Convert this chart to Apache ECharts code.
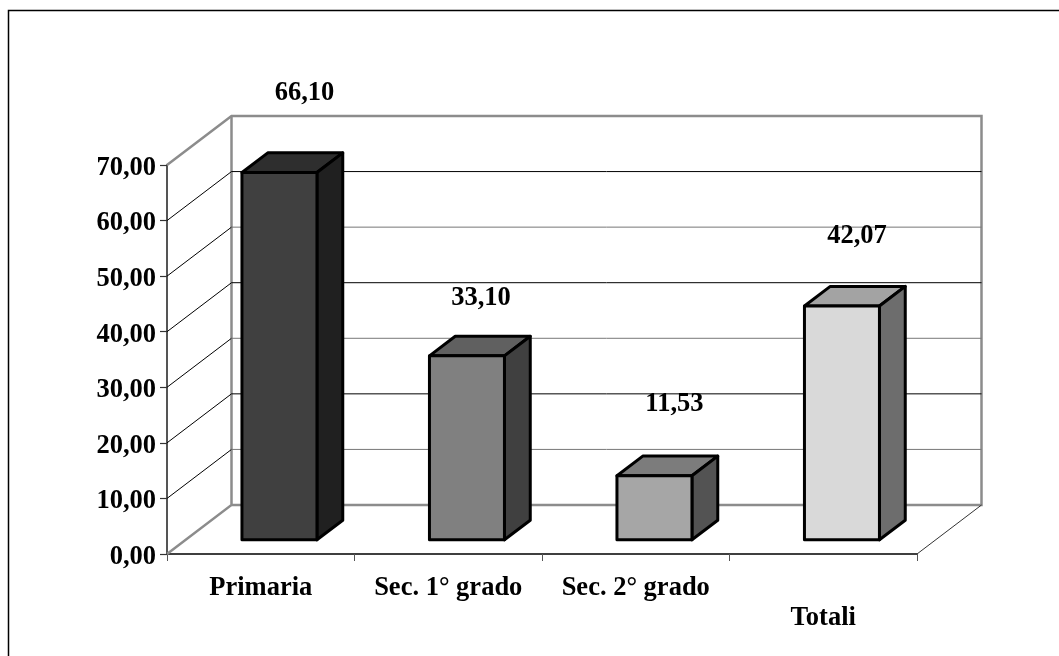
<!DOCTYPE html>
<html>
<head>
<meta charset="utf-8">
<style>html,body{margin:0;padding:0;background:#fff}#c{width:1059px;height:656px}</style>
<script src="https://cdn.jsdelivr.net/npm/echarts@6/dist/echarts.min.js"></script>
</head>
<body>
<div id="c"></div>
<script>
const categories = ['Primaria', 'Sec. 1° grado', 'Sec. 2° grado', 'Totali'];
const values = [66.10, 33.10, 11.53, 42.07];
const gridLevels = [10, 20, 30, 40, 50, 60];
const frontColors = ['#404040', '#808080', '#a6a6a6', '#d9d9d9'];
const topColors = ['#2e2e2e', '#606060', '#7c7c7c', '#a3a3a3'];
const sideColors = ['#202020', '#404040', '#535353', '#6d6d6d'];
const staggeredCategory = 'Totali';

const FONT = '"Liberation Serif", "Times New Roman", serif';
const FONT_SIZE = 26.5;
const DX = 64.5, DY = 49;            // depth of the chart box
const BAR_NEAR = 0.29, BAR_FAR = 0.69; // bar position inside the depth
const labelShift = [[25, -79], [14, -58], [20, -72], [15, -70]]; // label placement over each bar
const fmt = v => v.toFixed(2).replace('.', ',');

function renderBox(params, api) {
  const cs = params.coordSys;
  const x0 = cs.x, x1 = cs.x + cs.width, yTop = cs.y, yBot = cs.y + cs.height;
  const v = api.value(1);
  const y = api.coord([0, v])[1];
  const line = (pts, stroke, lineWidth) => ({
    type: 'polyline', shape: { points: pts },
    style: { stroke, lineWidth, fill: null }
  });
  if (v > 0) {
    return { type: 'group', children: [
      line([[x0, y], [x0 + DX, y - DY]], '#000000', 1),
      line([[x0 + DX, y - DY], [x1 + DX, y - DY]], (v === 50 || v === 30 || v === 10) ? '#777777' : '#000000', 1)
    ]};
  }
  return { type: 'group', children: [
    line([[x0, yTop], [x0 + DX, yTop - DY], [x1 + DX, yTop - DY], [x1 + DX, yBot - DY], [x0 + DX, yBot - DY]], '#8c8c8c', 2.5),
    line([[x0 + DX, yTop - DY], [x0 + DX, yBot - DY], [x0, yBot]], '#8c8c8c', 2.5),
    line([[x1, yBot], [x1 + DX, yBot - DY]], '#333333', 1)
  ]};
}

function renderBar(params, api) {
  const i = api.value(0), v = api.value(1);
  const base = api.coord([i, 0]), top = api.coord([i, v]);
  const w = api.size([1, 0])[0] * 0.4;
  const nx = DX * BAR_NEAR, ny = DY * BAR_NEAR;
  const ddx = DX * (BAR_FAR - BAR_NEAR), ddy = DY * (BAR_FAR - BAR_NEAR);
  const l = base[0] - w / 2 + nx, r = l + w;
  const b = base[1] - ny, t = top[1] - ny;
  const poly = (pts, fill) => ({
    type: 'polygon', shape: { points: pts },
    style: { fill, stroke: '#000000', lineWidth: 3, lineJoin: 'round' }
  });
  const shift = labelShift[i];
  return { type: 'group', children: [
    poly([[l, t], [l + ddx, t - ddy], [r + ddx, t - ddy], [r, t]], topColors[i]),
    poly([[r, t], [r + ddx, t - ddy], [r + ddx, b - ddy], [r, b]], sideColors[i]),
    poly([[l, t], [r, t], [r, b], [l, b]], frontColors[i]),
    { type: 'text', x: base[0] + nx + shift[0], y: t + shift[1],
      style: { text: fmt(v), fontFamily: FONT, fontWeight: 'bold', fontSize: FONT_SIZE, fill: '#000000',
               align: 'center', verticalAlign: 'middle' } }
  ]};
}

const chart = echarts.init(document.getElementById('c'), null, { renderer: 'canvas' });
chart.setOption({
  animation: false,
  backgroundColor: '#ffffff',
  grid: { left: 167, top: 165, width: 750, height: 389, containLabel: false },
  graphic: [{
    type: 'polyline', silent: true,
    shape: { points: [[8.5, 656], [8.5, 10.5], [1059, 10.5]] },
    style: { stroke: '#000000', lineWidth: 1.5, fill: null }
  }],
  xAxis: {
    type: 'category', data: categories,
    axisLine: { lineStyle: { color: '#000000', width: 1.5 } },
    axisTick: { show: true, length: 7, interval: 0, lineStyle: { color: '#555555', width: 1 } },
    axisLabel: {
      interval: 0, margin: 19, fontFamily: FONT, fontWeight: 'bold', fontSize: FONT_SIZE, color: '#000000',
      lineHeight: 30, hideOverlap: false,
      formatter: c => c === staggeredCategory ? '\n' + c : c
    }
  },
  yAxis: {
    type: 'value', min: 0, max: 70, interval: 10,
    splitLine: { show: false },
    axisLine: { show: true, lineStyle: { color: '#555555', width: 2 } },
    axisTick: { show: true, length: 7, lineStyle: { color: '#333333', width: 1.2 } },
    axisLabel: {
      margin: 11, color: '#000000',
      formatter: v => '{n|' + fmt(v) + '}',
      rich: { n: { fontFamily: FONT, fontWeight: 'bold', fontSize: FONT_SIZE, color: '#000000', padding: [6, 0, 0, 0] } }
    }
  },
  series: [
    { type: 'custom', coordinateSystem: 'cartesian2d', clip: false, silent: true, z: 1,
      renderItem: renderBox, data: [0].concat(gridLevels).map(v => [0, v]) },
    { type: 'custom', coordinateSystem: 'cartesian2d', clip: false, silent: true, z: 5,
      renderItem: renderBar, data: values.map((v, i) => [i, v]) }
  ]
});
</script>
</body>
</html>
